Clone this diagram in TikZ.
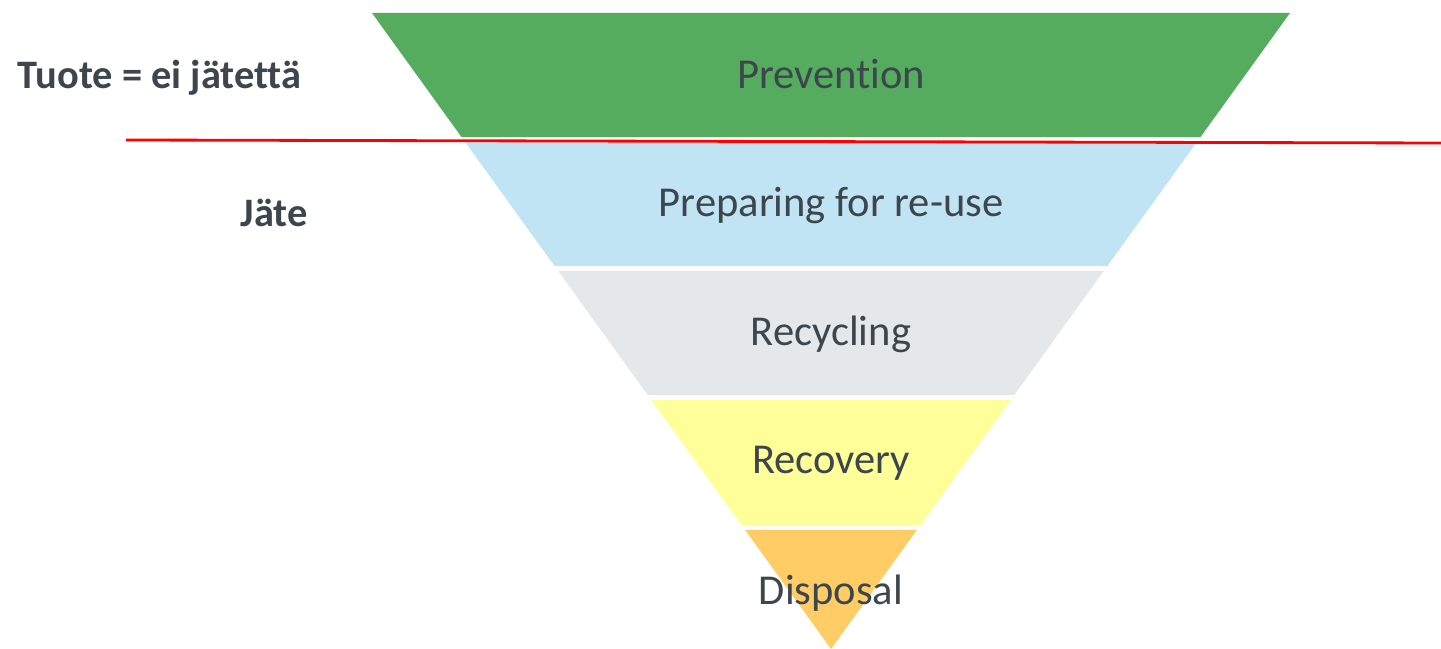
\documentclass[tikz,border=0pt]{standalone}
\usepackage{fontspec}
\setmainfont[Ligatures=NoCommon]{Carlito}
\definecolor{prevgreen}{HTML}{55AC5E}
\definecolor{reuseblue}{HTML}{C0E4F3}
\definecolor{recyclegray}{HTML}{E4E8EB}
\definecolor{recoveryyellow}{HTML}{FFFF99}
\definecolor{disposalorange}{HTML}{FFCC66}
\definecolor{labelgray}{HTML}{3C464C}
\tikzset{
  level/.style={text=labelgray, font=\fontsize{12.1}{14}\selectfont},
  side/.style={text=labelgray, font=\fontsize{11.5}{14}\selectfont\bfseries, anchor=west, inner sep=0pt},
}
\begin{document}
\begin{tikzpicture}[x=0.01cm, y=-0.01cm]
\useasboundingbox (0,0) rectangle (1441,649);
% bands of the inverted triangle, apex at (831,649)
\foreach \ytop/\ybot/\col in {13/137/prevgreen, 142/266/reuseblue, 271/395/recyclegray, 400/525/recoveryyellow, 530/649/disposalorange}{
  \pgfmathsetmacro\wtop{(649-\ytop)*0.7217}
  \pgfmathsetmacro\wbot{(649-\ybot)*0.7217}
  \fill[\col] (831-\wtop,\ytop) -- (831+\wtop,\ytop) -- (831+\wbot,\ybot) -- (831-\wbot,\ybot) -- cycle;
}
\node[level] (Prev) at (831,74) {Prevention};
\node[level] (Reuse) at (831,206) {Preparing for re-use};
\node[level] (Recyc) at (831,334) {Recycling};
\node[level] (Recov) at (831,463) {Recovery};
\node[level] (Disp) at (831,593) {Disposal};

\node[side] (Tuote) at (17,78) {Tuote = ei jätettä};
\node[side] (Jate) at (240,213) {Jäte};

\coordinate (L0) at (126,140);
\coordinate (L1) at (1441,143);
\draw[red, line width=0.8pt] (L0) -- (L1);
\end{tikzpicture}
\end{document}
